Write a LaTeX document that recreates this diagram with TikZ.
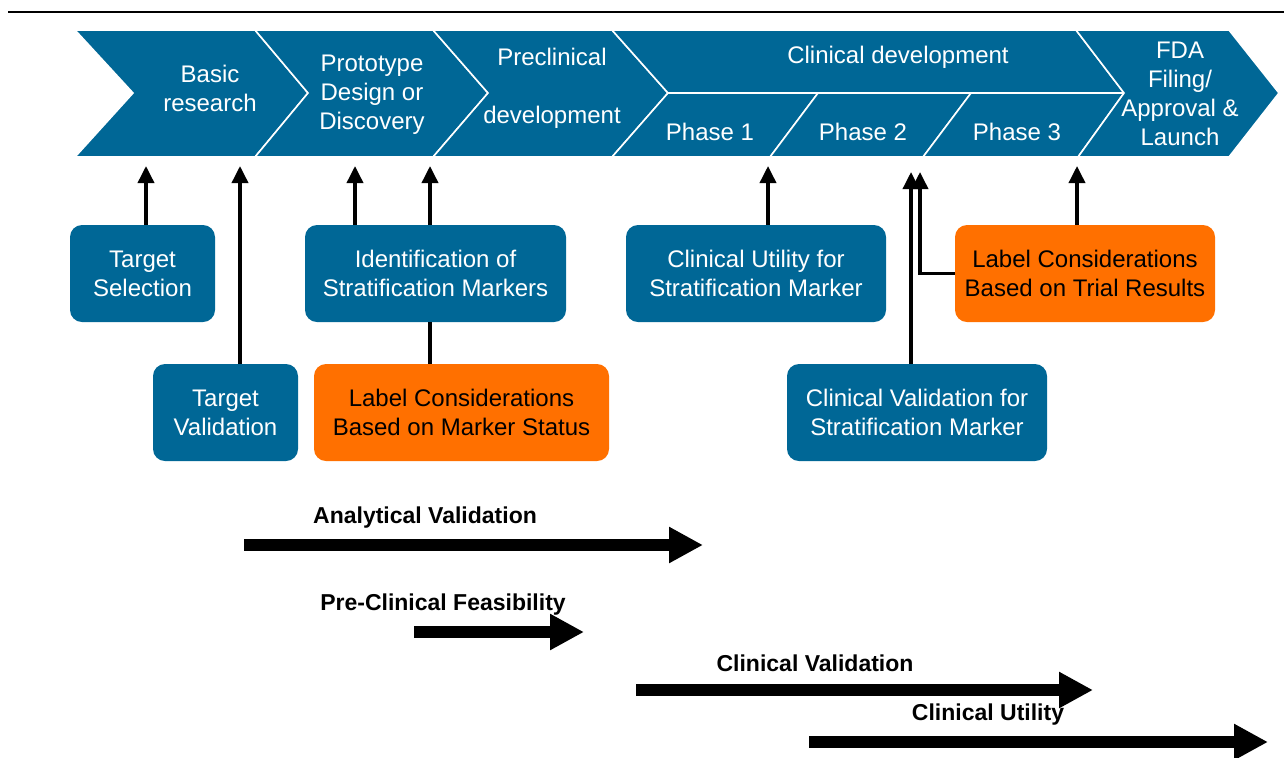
\documentclass[tikz,border=0pt]{standalone}
\usepackage{fontspec}
\setmainfont{Liberation Sans}
\usepackage{tikz}
\usetikzlibrary{arrows.meta}
\usetikzlibrary{positioning}
\definecolor{stageblue}{RGB}{0,103,150}
\definecolor{markorange}{RGB}{255,112,0}

\begin{document}
\begin{tikzpicture}[
x=0.5pt, y=-0.5pt,
stage/.style={
fill=stageblue,
draw=white,
line width=0.8pt,
line join=miter},
stagetext/.style={
text=white,
align=center,
inner sep=0pt,
font=\fontsize{12}{14.5}\selectfont},
bluebox/.style={
rectangle,
rounded corners=6pt,
fill=stageblue,
text=white,
align=center,
inner sep=2pt,
minimum height=48.5pt,
font=\fontsize{12}{14.5}\selectfont},
orangebox/.style={bluebox, fill=markorange, text=black},
uparrow/.style={line width=1.8pt, -{Triangle[length=8.5pt,width=8pt]}},
bigarrow/.style={line width=6pt, -{Triangle[length=17pt,width=17pt]}},
arrowlabel/.style={inner sep=0pt, font=\bfseries\fontsize{11.5}{13}\selectfont}
]
\useasboundingbox (0,0) rectangle (1284,757);
\draw[line width=1pt] (8,12) -- (1284,12);

\fill[stage] (75,30) -- (255,30) -- (308,93) -- (255,157) -- (75,157) -- (133,93) -- cycle;
\fill[stage] (255,30) -- (433,30) -- (488,93) -- (433,157) -- (255,157) -- (308,93) -- cycle;
\fill[stage] (433,30) -- (612,30) -- (668,93) -- (612,157) -- (433,157) -- (488,93) -- cycle;
\fill[stage] (612,30) -- (1076,30) -- (1124,93) -- (668,93) -- cycle;
\fill[stage] (668,93) -- (818,93) -- (770,157) -- (612,157) -- cycle;
\fill[stage] (818,93) -- (971,93) -- (923,157) -- (770,157) -- cycle;
\fill[stage] (971,93) -- (1124,93) -- (1078,157) -- (923,157) -- cycle;
\fill[stage] (1076,30) -- (1229,30) -- (1279,93) -- (1229,157) -- (1078,157) -- (1124,93) -- cycle;

\node[stagetext] (basic) at (210,88) {Basic\\research};
\node[stagetext] (proto) at (372,95) {Prototype\\Design or\\Discovery};
\node[stagetext] (precl) at (552,88) {Preclinical\\[14.5pt]development};
\node[stagetext] (clin) at (898,57) {Clinical development};
\node[stagetext] (ph1) at (710,132) {Phase 1};
\node[stagetext] (ph2) at (863,132) {Phase 2};
\node[stagetext] (ph3) at (1017,132) {Phase 3};
\node[stagetext] (fda) at (1180,94) {FDA\\Filing/\\Approval \&\\Launch};

\node[bluebox, minimum width=72.5pt] (tsel) at (142.5,273.5) {Target\\Selection};
\node[bluebox, minimum width=72.5pt] (tval) at (225.5,412.5) {Target\\Validation};
\node[bluebox, minimum width=130.5pt] (ident) at (435.5,273.5) {Identification of\\Stratification Markers};
\node[orangebox, minimum width=147.5pt] (lblmark) at (461.5,412.5) {Label Considerations\\Based on Marker Status};
\node[bluebox, minimum width=130pt] (cutil) at (756,273.5) {Clinical Utility for\\Stratification Marker};
\node[orangebox, minimum width=130pt] (lbltrial) at (1085,273.5) {Label Considerations\\Based on Trial Results};
\node[bluebox, minimum width=130pt] (cval) at (917,412.5) {Clinical Validation for\\Stratification Marker};

\coordinate (b1) at (146,166);
\coordinate (b2) at (240,166);
\coordinate (b3) at (355,166);
\coordinate (b4) at (430,166);
\coordinate (b5) at (768,166);
\coordinate (b6) at (911,172);
\coordinate (b7) at (920,172);
\coordinate (b8) at (1077,166);

\foreach \i/\j in {tsel/b1, tval/b2, ident/b3, ident/b4, cutil/b5, cval/b6, lbltrial/b8}
  \draw[uparrow] (\i.north -| \j) -- (\j);
\draw[uparrow] (lbltrial.west) -| (b7);
\draw[line width=1.8pt] (ident.south -| b4) -- (lblmark.north -| b4);

\foreach \nm/\xa/\xb/\yy/\xl/\txt in {
  av/244/703/545/425/{Analytical Validation},
  pf/414/584/632/443/{Pre-Clinical Feasibility},
  cv/636/1093/690/815/{Clinical Validation},
  cu/809/1268/742/988/{Clinical Utility}}
  {
  \node[arrowlabel] (\nm lab) at (\xl,\yy-27) {\txt};
  \coordinate (\nm s) at (\xa,\yy);
  \coordinate (\nm e) at (\xb,\yy);
  \draw[bigarrow] (\nm s) -- (\nm e);
  }
\end{tikzpicture}
\end{document}
